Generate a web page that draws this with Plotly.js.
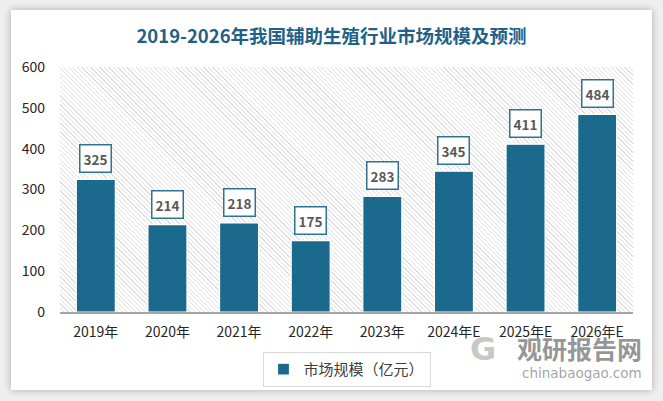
<!DOCTYPE html>
<html>
<head>
<meta charset="utf-8">
<script src="https://cdn.plot.ly/plotly-3.0.1.min.js"></script>
<style>
html,body{margin:0;padding:0;background:#efefef;width:663px;height:401px;overflow:hidden;}
#card{position:absolute;left:11px;top:10px;width:641px;height:380px;background:#fff;box-shadow:0 0 8px rgba(0,0,0,0.28);}
#hatch{position:absolute;background:repeating-linear-gradient(45deg,#ffffff 0px,#ffffff 2.3px,#e0e0e0 2.3px,#e0e0e0 3.2px);}
#chart{position:absolute;left:0;top:0;width:663px;height:401px;}
</style>
</head>
<body>
<div id="card"></div>
<div id="hatch"></div>
<div id="chart"></div>
<script>
var categories = ["2019年","2020年","2021年","2022年","2023年","2024年E","2025年E","2026年E"];
var values = [325, 214, 218, 175, 283, 345, 411, 484];
var seriesName = "市场规模（亿元）";
var titleText = "2019-2026年我国辅助生殖行业市场规模及预测";
var yTicks = [0, 100, 200, 300, 400, 500, 600];

var barColor = "#1b6a8e";
var font = "Noto Sans CJK SC, Noto Sans, sans-serif";

var trace = {
  type: "bar",
  x: categories,
  y: values,
  name: seriesName,
  marker: {color: barColor, line: {color: "#ffffff", width: 1.2}},
  hoverinfo: "x+y"
};

var annotations = categories.map(function(c, i){
  return {
    x: c, y: values[i], xref: "x", yref: "y",
    text: "<b>" + values[i] + "</b>",
    showarrow: false, yanchor: "bottom", yshift: 6,
    font: {family: font, size: 13.5, color: "#595959"},
    bgcolor: "#ffffff", bordercolor: "#2f7392", borderwidth: 1.5, borderpad: 3
  };
});
// watermark
annotations.push({
  xref: "paper", yref: "paper", x: 1.018, y: -0.148, xanchor: "right", yanchor: "middle",
  text: "<b>观研报告网</b>", showarrow: false, borderpad: 0,
  font: {family: font, size: 25, color: "rgba(110,110,110,0.72)"}
});
annotations.push({
  xref: "paper", yref: "paper", x: 1.018, y: -0.248, xanchor: "right", yanchor: "middle",
  text: "chinabaogao.com", showarrow: false, borderpad: 0,
  font: {family: "DejaVu Sans, sans-serif", size: 13.5, color: "rgba(140,140,140,0.8)"}
});
annotations.push({
  xref: "paper", yref: "paper", x: 0.738, y: -0.152, xanchor: "center", yanchor: "middle",
  text: "<b>G</b>", showarrow: false, borderpad: 0,
  font: {family: "DejaVu Sans, sans-serif", size: 32, color: "rgba(165,165,155,0.6)"}
});

var layout = {
  width: 663, height: 401,
  margin: {l: 60, r: 30, t: 67, b: 89},
  paper_bgcolor: "rgba(0,0,0,0)",
  plot_bgcolor: "rgba(0,0,0,0)",
  title: {text: "<b>" + titleText + "</b>", x: 0.5, xanchor: "center", y: 0.91, yanchor: "middle",
          font: {family: font, size: 18.5, color: "#1f6188"}},
  bargap: 0.455,
  showlegend: true,
  legend: {orientation: "h", x: 0.5, xanchor: "center", y: -0.163, yanchor: "top",
           bordercolor: "#d9d9d9", borderwidth: 1, bgcolor: "#ffffff",
           font: {family: font, size: 15, color: "#404040"}, itemwidth: 30},
  xaxis: {
    type: "category",
    showgrid: false, showline: true, linecolor: "#a6a6a6", linewidth: 1.5,
    ticks: "", ticklabelstandoff: 6,
    tickfont: {family: font, size: 14, color: "#262626"}
  },
  yaxis: {
    range: [0, 600], tickvals: yTicks, showgrid: false, zeroline: false, showline: false,
    ticks: "", ticklabelstandoff: 14,
    tickfont: {family: font, size: 14, color: "#262626"}
  },
  annotations: annotations
};

Plotly.newPlot("chart", [trace], layout, {displayModeBar: false}).then(function(gd){
  var s = gd._fullLayout._size;
  var h = document.getElementById("hatch");
  h.style.left = s.l + "px";
  h.style.top = s.t + "px";
  h.style.width = s.w + "px";
  h.style.height = s.h + "px";
});
</script>
</body>
</html>
